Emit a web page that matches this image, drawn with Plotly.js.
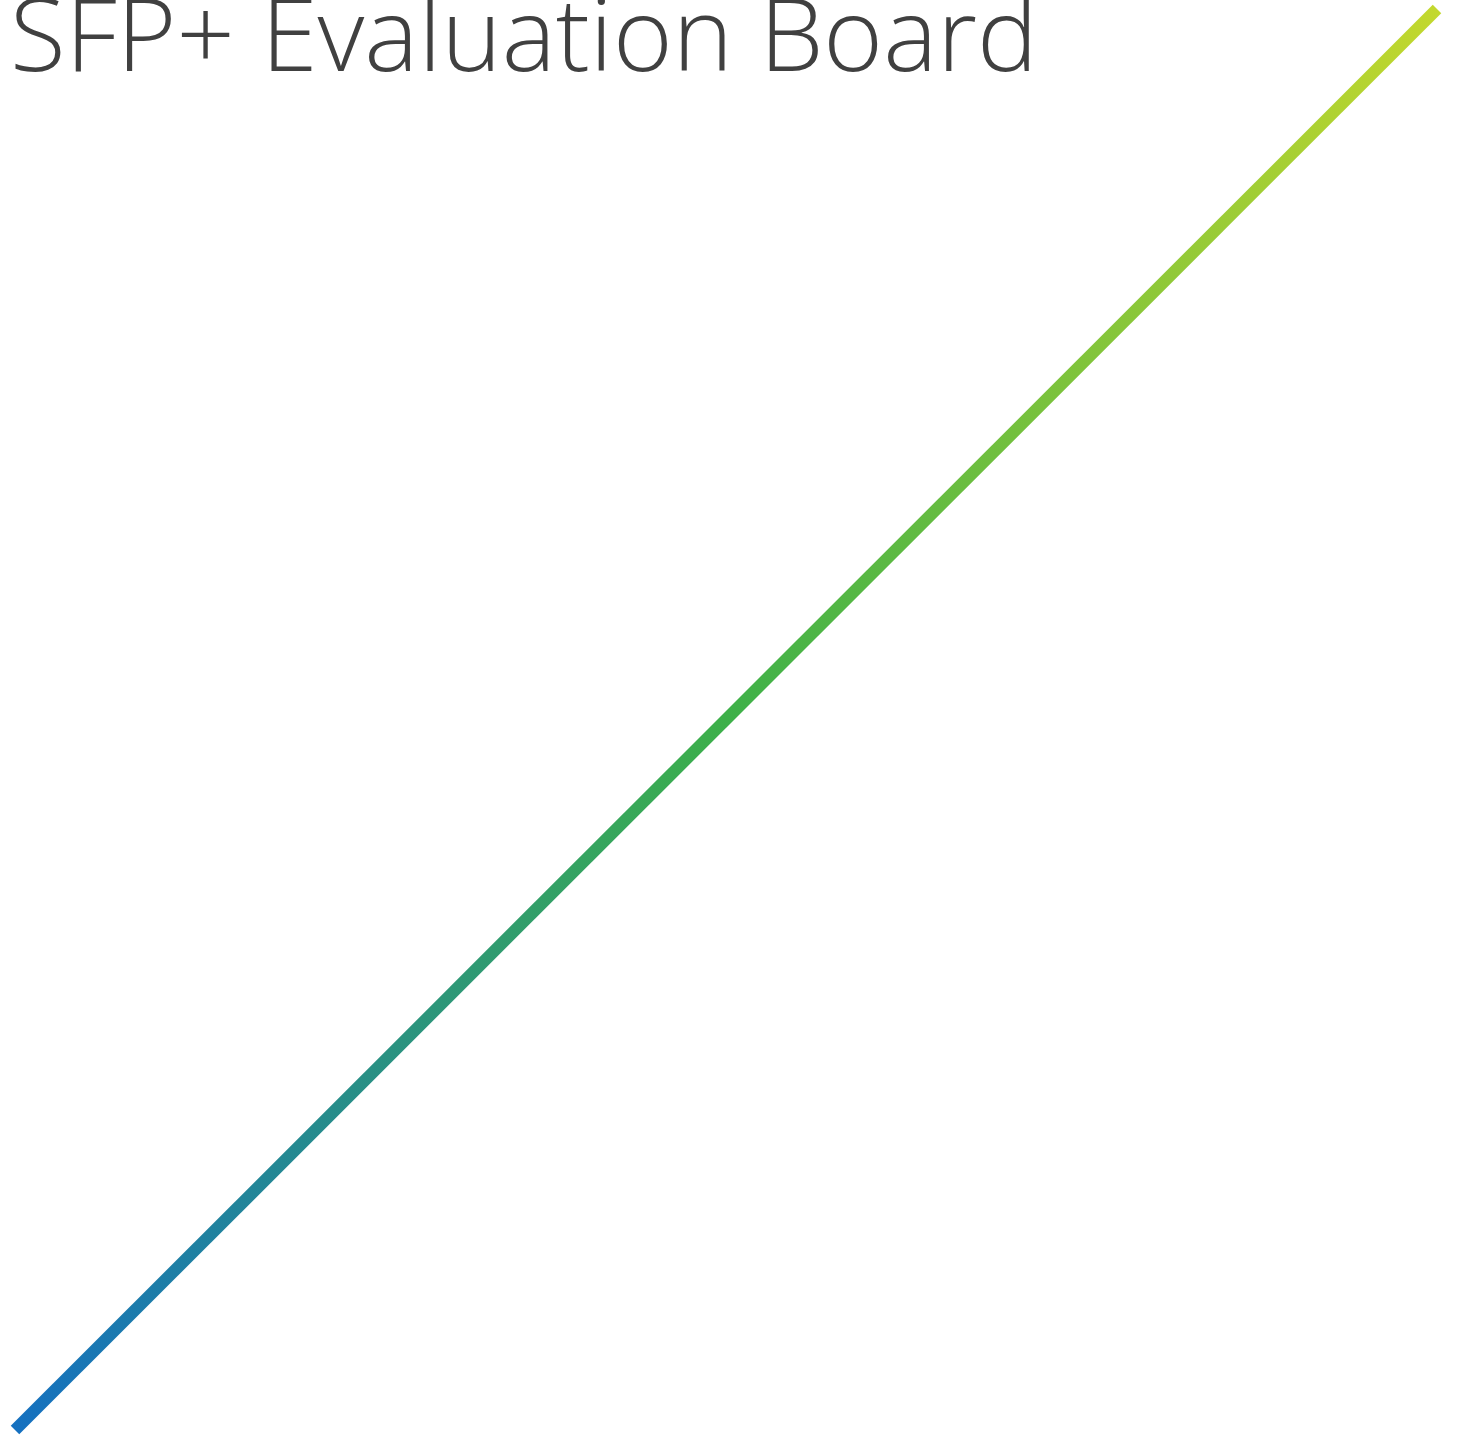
<!DOCTYPE html>
<html>
<head>
<meta charset="utf-8">
<script src="https://cdn.plot.ly/plotly-3.0.1.min.js"></script>
<style>
  html, body { margin: 0; padding: 0; background: #ffffff; }
  #chart { width: 1458px; height: 1440px; }
</style>
</head>
<body>
<div id="chart"></div>
<script>
// Data: a single rising diagonal line from the lower-left to the upper-right corner
const lineX = [0, 1];
const lineY = [0, 1];
const titleText = "SFP+ Evaluation Board";
const gradientStops = [
  [0.0, "#1570c0"],
  [0.5, "#3db049"],
  [1.0, "#c3d82e"]
];

const trace = {
  x: lineX,
  y: lineY,
  type: "scatter",
  mode: "lines",
  line: { color: "#3db049", width: 12 },
  hoverinfo: "skip"
};

const layout = {
  width: 1458,
  height: 1440,
  margin: { l: 0, r: 0, t: 0, b: 0, pad: 0 },
  paper_bgcolor: "#ffffff",
  plot_bgcolor: "#ffffff",
  showlegend: false,
  title: {
    text: titleText,
    font: { family: "Open Sans, sans-serif", size: 102, color: "#404040", weight: 300 },
    xref: "container", yref: "container",
    x: 0.0068, xanchor: "left",
    y: 1.0085, yanchor: "top"
  },
  xaxis: { range: [-0.01055, 1.01477], visible: false, fixedrange: true },
  yaxis: { range: [-0.00704, 1.00633], visible: false, fixedrange: true }
};

Plotly.newPlot("chart", [trace], layout, { staticPlot: true, displayModeBar: false }).then(function (gd) {
  const svg = gd.querySelector("svg.main-svg");
  const ns = "http://www.w3.org/2000/svg";
  let defs = svg.querySelector("defs");
  if (!defs) { defs = document.createElementNS(ns, "defs"); svg.insertBefore(defs, svg.firstChild); }
  const grad = document.createElementNS(ns, "linearGradient");
  grad.setAttribute("id", "lineGrad");
  grad.setAttribute("gradientUnits", "userSpaceOnUse");
  const xa = gd._fullLayout.xaxis, ya = gd._fullLayout.yaxis;
  grad.setAttribute("x1", xa.l2p(lineX[0]));
  grad.setAttribute("y1", ya.l2p(lineY[0]));
  grad.setAttribute("x2", xa.l2p(lineX[lineX.length - 1]));
  grad.setAttribute("y2", ya.l2p(lineY[lineY.length - 1]));
  gradientStops.forEach(function (s) {
    const st = document.createElementNS(ns, "stop");
    st.setAttribute("offset", s[0]);
    st.setAttribute("stop-color", s[1]);
    grad.appendChild(st);
  });
  defs.appendChild(grad);
  gd.querySelectorAll(".scatterlayer .trace path.js-line").forEach(function (p) {
    p.style.stroke = "url(#lineGrad)";
    p.style.strokeLinecap = "butt";
  });
});
</script>
</body>
</html>
